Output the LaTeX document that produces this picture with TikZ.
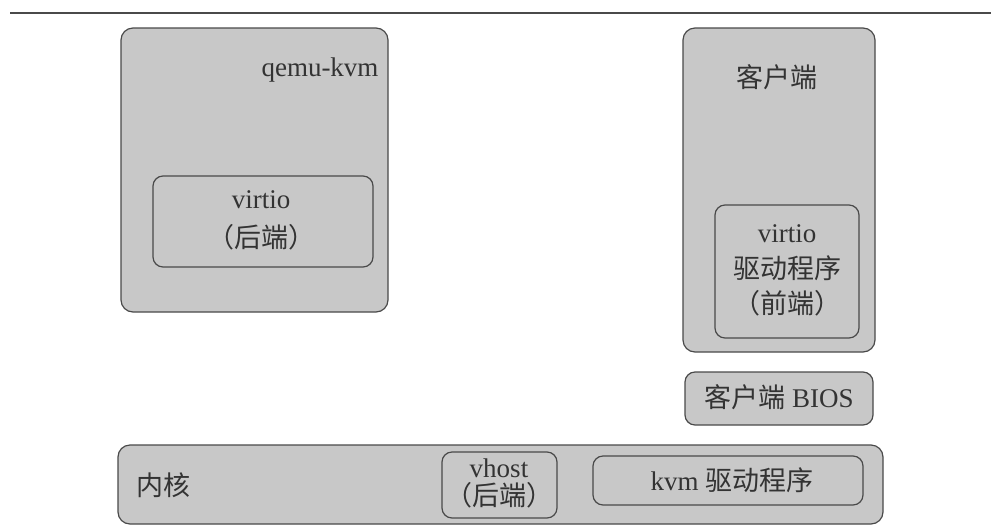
\documentclass[tikz,border=0pt]{standalone}
\usepackage{fontspec}
\setmainfont{Liberation Serif}
\newfontfamily\cjk{Noto Sans CJK SC}
\definecolor{boxfill}{HTML}{C8C8C8}
\definecolor{boxline}{HTML}{4A4A4A}
\definecolor{ink}{HTML}{333333}
\tikzset{
  panel/.style={draw=boxline, fill=boxfill, line width=1.2pt, rounded corners=12pt, inner sep=0pt},
  subpanel/.style={draw=boxline, fill=boxfill, line width=1.2pt, rounded corners=10pt, inner sep=0pt},
  lbl/.style={text=ink, font=\fontsize{27}{32}\selectfont, inner sep=0pt, align=center},
}
\begin{document}
\begin{tikzpicture}[x=1pt,y=-1pt]
\useasboundingbox (0,0) rectangle (991,531);
% rule across the top
\coordinate (ruleL) at (10,13);
\coordinate (ruleR) at (991,13);
\draw[boxline, line width=2pt] (ruleL) -- (ruleR);

% host user space: qemu-kvm
\node[panel, minimum width=267pt, minimum height=284pt] (qemu) at (254.5,170) {};
\node[lbl] (qemuT) at (320,70) {qemu-kvm};
\node[subpanel, minimum width=220pt, minimum height=91pt] (vback) at (263,221.5) {};
\node[lbl] (vbackT) at (261,220) {virtio\\[7pt]{\cjk （后端）}};

% guest
\node[panel, minimum width=192pt, minimum height=324pt] (guest) at (779,190) {};
\node[lbl] (guestT) at (777,77) {\cjk 客户端};
\node[subpanel, minimum width=144pt, minimum height=133pt] (vfront) at (787,271.5) {};
\node[lbl] (vfrontT) at (787,270) {virtio\\[4pt]{\cjk 驱动程序}\\[3pt]{\cjk （前端）}};

% guest BIOS
\node[subpanel, minimum width=188pt, minimum height=53pt] (bios) at (779,398.5) {};
\node[lbl] (biosT) at (779,397) {{\cjk 客户端} BIOS};

% kernel
\node[panel, minimum width=765pt, minimum height=79pt] (kernel) at (500.5,484.5) {};
\node[lbl, anchor=west] (kernelT) at (136,485) {\cjk 内核};
\node[subpanel, minimum width=115pt, minimum height=66pt] (vhost) at (499.5,485) {};
\node[lbl] (vhostT) at (499,483) {vhost\\[-4pt]{\cjk （后端）}};
\node[subpanel, minimum width=270pt, minimum height=49pt] (kvm) at (728,480.5) {};
\node[lbl] (kvmT) at (732,480) {kvm {\cjk 驱动程序}};
\end{tikzpicture}
\end{document}
